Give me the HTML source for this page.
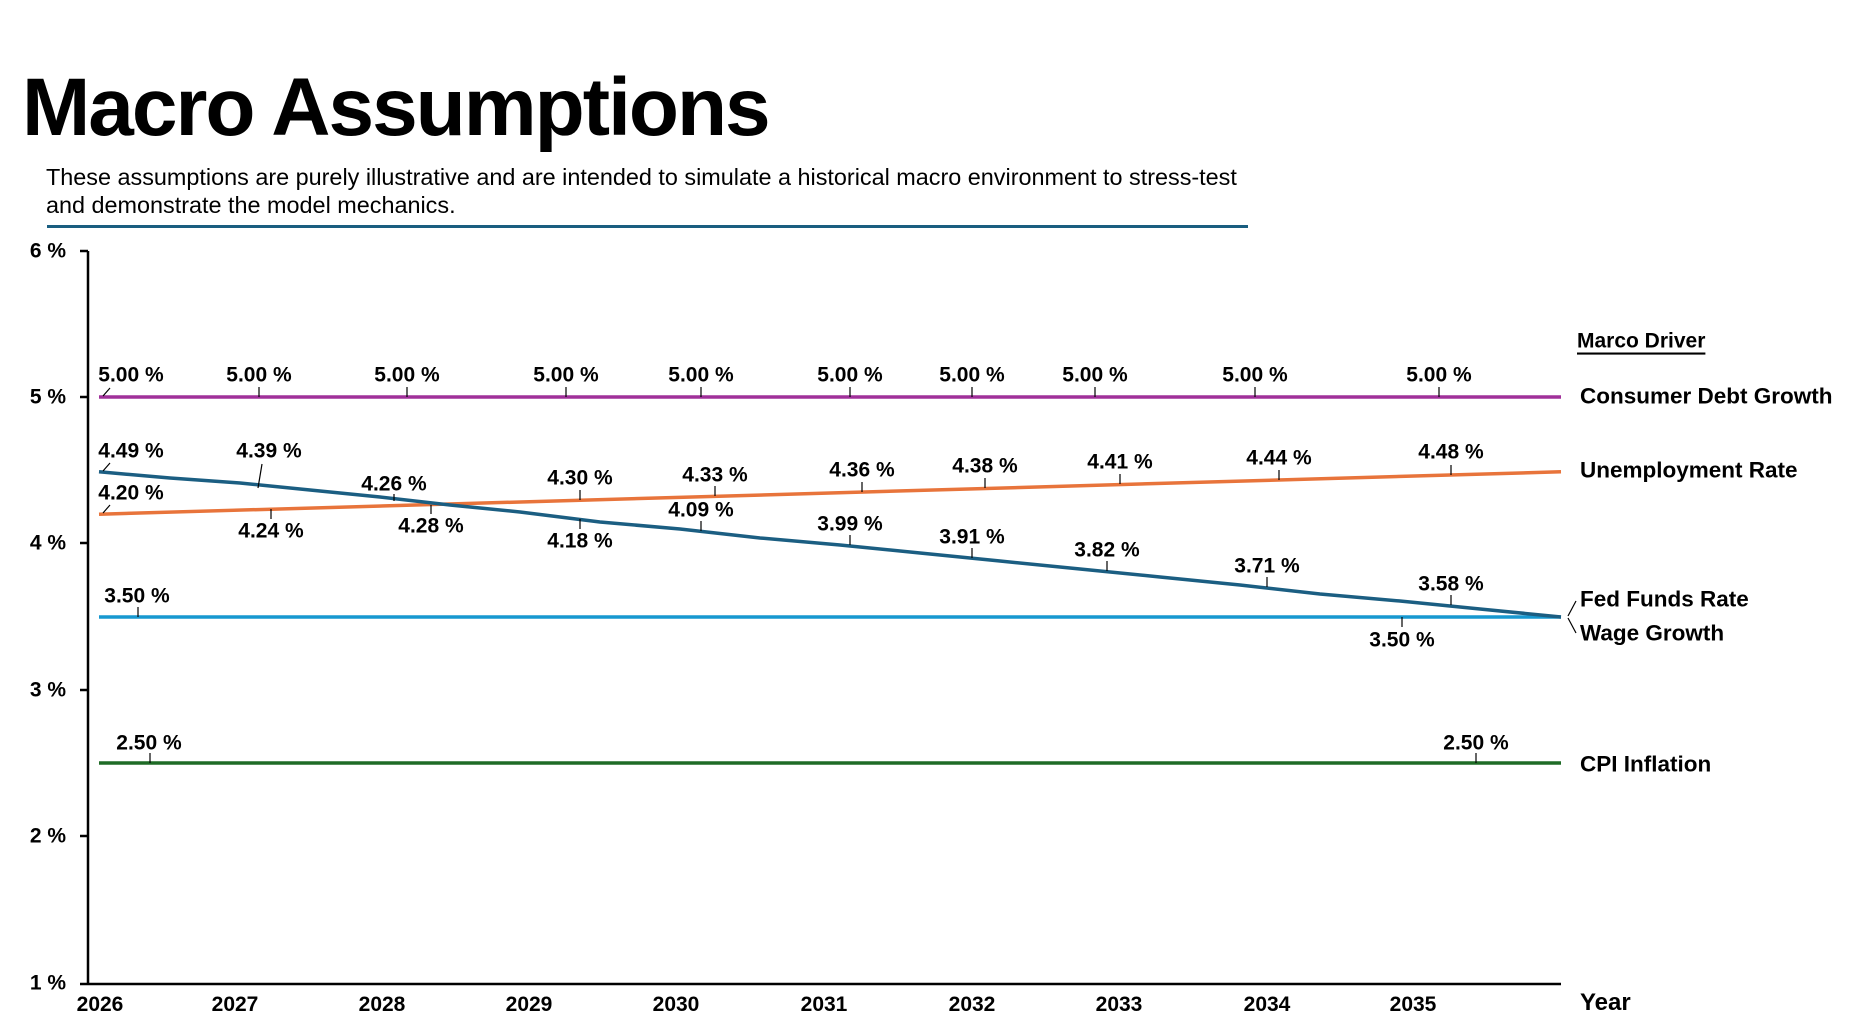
<!DOCTYPE html>
<html><head><meta charset="utf-8"><style>
html,body{margin:0;padding:0;background:#fff;width:1872px;height:1031px;overflow:hidden}
svg{display:block}
text{font-family:"Liberation Sans",sans-serif;fill:#000}
.t{font-size:21px;font-weight:bold}
.l{font-size:22.5px;font-weight:bold}
</style></head><body>
<svg width="1872" height="1031" viewBox="0 0 1872 1031" xmlns="http://www.w3.org/2000/svg">
<text x="22" y="135" style="font-size:82px;font-weight:bold;letter-spacing:-2px">Macro Assumptions</text>
<text x="46" y="185" style="font-size:23.4px">These assumptions are purely illustrative and are intended to simulate a historical macro environment to stress-test</text>
<text x="46" y="213" style="font-size:23.4px">and demonstrate the model mechanics.</text>
<rect x="47" y="225" width="1201" height="3" fill="#1a5e80"/>

<!-- axes -->
<g stroke="#000" stroke-width="2.5" fill="none">
<line x1="88" y1="251" x2="88" y2="984"/>
<line x1="80" y1="984" x2="1561" y2="984"/>
<line x1="80" y1="251" x2="88" y2="251"/>
<line x1="80" y1="397" x2="88" y2="397"/>
<line x1="80" y1="543" x2="88" y2="543"/>
<line x1="80" y1="690" x2="88" y2="690"/>
<line x1="80" y1="836" x2="88" y2="836"/>
</g>
<g class="t" text-anchor="end" dominant-baseline="central">
<text x="66" y="251">6 %</text><text x="66" y="397">5 %</text><text x="66" y="543">4 %</text>
<text x="66" y="690">3 %</text><text x="66" y="836">2 %</text><text x="66" y="983">1 %</text>
</g>
<g class="t" text-anchor="middle">
<text x="100" y="1011">2026</text><text x="235" y="1011">2027</text><text x="382" y="1011">2028</text>
<text x="529" y="1011">2029</text><text x="676" y="1011">2030</text><text x="824" y="1011">2031</text>
<text x="972" y="1011">2032</text><text x="1119" y="1011">2033</text><text x="1267" y="1011">2034</text>
<text x="1413" y="1011">2035</text>
</g>
<text x="1580" y="1010" style="font-size:24px;font-weight:bold">Year</text>

<!-- series -->
<line x1="99" y1="397" x2="1561" y2="397" stroke="#a0309a" stroke-width="3.5"/>
<line x1="99" y1="763" x2="1561" y2="763" stroke="#1e6b26" stroke-width="3.5"/>
<line x1="99" y1="617" x2="1561" y2="617" stroke="#1798d0" stroke-width="3.5"/>
<polyline fill="none" stroke="#e8743b" stroke-width="3.5" points="99,514.2 1561,471.8"/>
<polyline fill="none" stroke="#1b5e82" stroke-width="3.5" points="99,471.8 170,478 240,483 310,490 380,497 450,505 520,512 600,522 680,529 760,538 840,545 920,553 1000,561 1080,569 1160,577 1240,585 1320,594 1400,601 1480,609 1561,617"/>

<!-- leader ticks -->
<g stroke="#000" stroke-width="1.2">
<line x1="103" y1="396" x2="110" y2="388"/>
<line x1="259" y1="387" x2="259" y2="397"/><line x1="407" y1="387" x2="407" y2="397"/>
<line x1="566" y1="387" x2="566" y2="397"/><line x1="701" y1="387" x2="701" y2="397"/>
<line x1="850" y1="387" x2="850" y2="397"/><line x1="972" y1="387" x2="972" y2="397"/>
<line x1="1095" y1="387" x2="1095" y2="397"/><line x1="1255" y1="387" x2="1255" y2="397"/>
<line x1="1439" y1="387" x2="1439" y2="397"/>
<line x1="103" y1="513" x2="110" y2="505"/>
<line x1="103" y1="471" x2="110" y2="463"/>
<line x1="271" y1="509" x2="271" y2="519"/><line x1="431" y1="505" x2="431" y2="514"/>
<line x1="580" y1="490" x2="580" y2="500"/><line x1="715" y1="486" x2="715" y2="496"/>
<line x1="862" y1="482" x2="862" y2="492"/><line x1="985" y1="478" x2="985" y2="488"/>
<line x1="1120" y1="474" x2="1120" y2="484"/><line x1="1279" y1="470" x2="1279" y2="480"/>
<line x1="1451" y1="465" x2="1451" y2="475"/>
<line x1="262" y1="464" x2="258" y2="488"/>
<line x1="394" y1="494" x2="394" y2="501"/><line x1="580" y1="519" x2="580" y2="529"/>
<line x1="701" y1="521" x2="701" y2="531"/><line x1="850" y1="535" x2="850" y2="545"/>
<line x1="972" y1="548" x2="972" y2="558"/><line x1="1107" y1="561" x2="1107" y2="571"/>
<line x1="1267" y1="577" x2="1267" y2="587"/><line x1="1451" y1="595" x2="1451" y2="605"/>
<line x1="138" y1="607" x2="138" y2="617"/><line x1="1402" y1="617" x2="1402" y2="627"/>
<line x1="150" y1="753" x2="150" y2="763"/><line x1="1476" y1="753" x2="1476" y2="763"/>
<line x1="1568" y1="616" x2="1576" y2="601"/><line x1="1568" y1="618" x2="1576" y2="633"/>
</g>

<!-- data labels -->
<g class="t" text-anchor="middle" dominant-baseline="central">
<text x="131" y="375">5.00 %</text><text x="259" y="375">5.00 %</text><text x="407" y="375">5.00 %</text>
<text x="566" y="375">5.00 %</text><text x="701" y="375">5.00 %</text><text x="850" y="375">5.00 %</text>
<text x="972" y="375">5.00 %</text><text x="1095" y="375">5.00 %</text><text x="1255" y="375">5.00 %</text>
<text x="1439" y="375">5.00 %</text>
<text x="131" y="493">4.20 %</text><text x="271" y="531">4.24 %</text><text x="431" y="526">4.28 %</text>
<text x="580" y="478">4.30 %</text><text x="715" y="475">4.33 %</text><text x="862" y="470">4.36 %</text>
<text x="985" y="466">4.38 %</text><text x="1120" y="462">4.41 %</text><text x="1279" y="458">4.44 %</text>
<text x="1451" y="452">4.48 %</text>
<text x="131" y="451">4.49 %</text><text x="269" y="451">4.39 %</text><text x="394" y="484">4.26 %</text>
<text x="580" y="541">4.18 %</text><text x="701" y="510">4.09 %</text><text x="850" y="524">3.99 %</text>
<text x="972" y="537">3.91 %</text><text x="1107" y="550">3.82 %</text><text x="1267" y="566">3.71 %</text>
<text x="1451" y="584">3.58 %</text>
<text x="137" y="596">3.50 %</text><text x="1402" y="640">3.50 %</text>
<text x="149" y="743">2.50 %</text><text x="1476" y="743">2.50 %</text>
</g>

<!-- legend -->
<g class="l" dominant-baseline="central">
<text x="1577" y="341" style="font-size:21px;text-decoration:underline">Marco Driver</text>
<text x="1580" y="396">Consumer Debt Growth</text>
<text x="1580" y="470">Unemployment Rate</text>
<text x="1580" y="599">Fed Funds Rate</text>
<text x="1580" y="633">Wage Growth</text>
<text x="1580" y="764">CPI Inflation</text>
</g>
</svg>
</body></html>
